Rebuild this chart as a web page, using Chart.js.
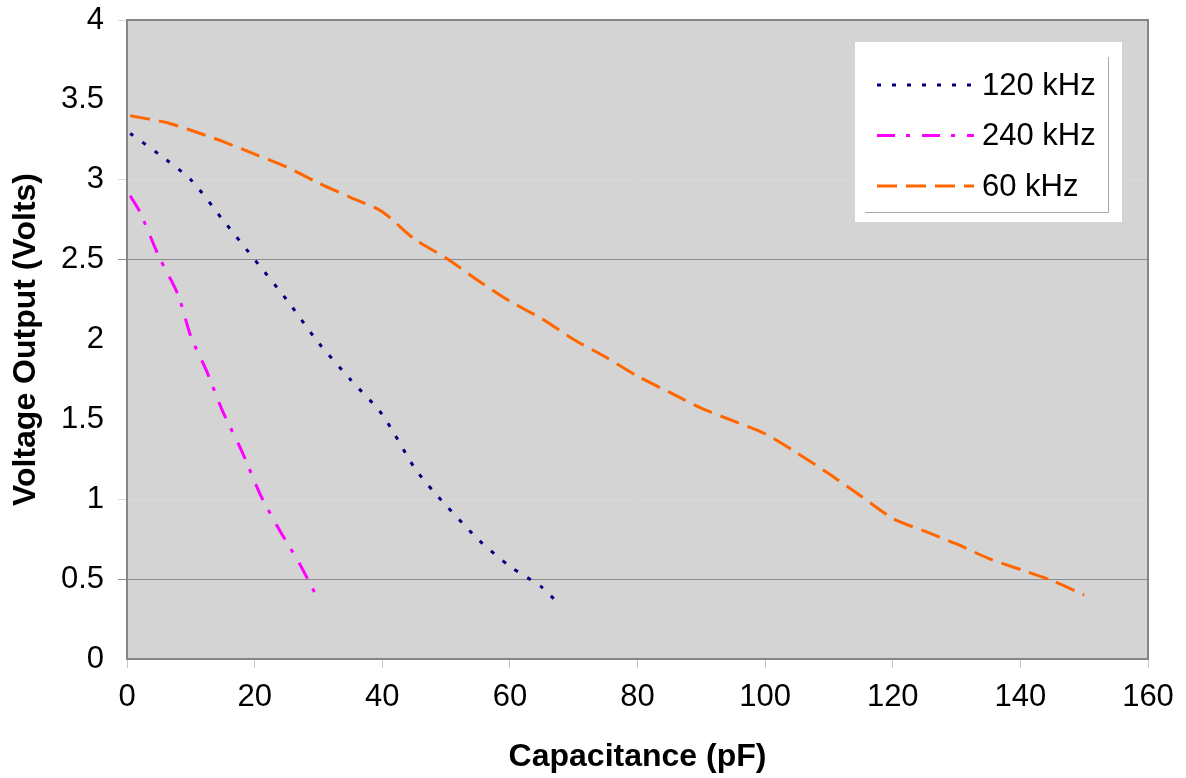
<!DOCTYPE html>
<html>
<head>
<meta charset="utf-8">
<script src="https://cdn.jsdelivr.net/npm/chart.js@4/dist/chart.umd.min.js"></script>
<style>
body{margin:0;background:#fff;}
#wrap{width:1186px;height:778px;position:relative;}
</style>
</head>
<body>
<div id="wrap"><canvas id="chart"></canvas></div>
<script>
// ================= Data =================
const xTicks=[0,20,40,60,80,100,120,140,160];
const yTicks=[0,0.5,1,1.5,2,2.5,3,3.5,4];
const seriesNames=['120 kHz','240 kHz','60 kHz'];

const cap120=[0.5,5,10,15,20,25,30,35,40,45,48,55,60,65,67.5];
const volt120=[3.29,3.16,3.0,2.75,2.5,2.25,1.98,1.75,1.53,1.2,1.05,0.75,0.58,0.45,0.35];

const cap240=[0.5,2,5,8,10,12.5,15,18,21,24,27,30];
const volt240=[2.9,2.8,2.52,2.28,2.02,1.8,1.55,1.3,1.02,0.8,0.6,0.37];

const cap60=[0.5,6,10,15,20,25,30,35,40,45,50,55,60,65,70,75,80,85,90,95,100,105,110,115,120,125,130,135,140,145,150];
const volt60=[3.4,3.36,3.31,3.24,3.16,3.08,2.98,2.89,2.8,2.63,2.51,2.37,2.24,2.13,2.0,1.89,1.77,1.67,1.57,1.49,1.41,1.29,1.16,1.02,0.88,0.8,0.72,0.63,0.56,0.49,0.4];

const toPts=(xs,ys)=>xs.map((x,i)=>({x:x,y:ys[i]}));

// ================= Plugins =================
const plotBox={
    id:'plotBox',
    beforeDraw(chart){
        const {ctx,chartArea:a}=chart;
        ctx.save(); ctx.fillStyle='#d4d4d4';
        ctx.fillRect(a.left,a.top,a.right-a.left,a.bottom-a.top); ctx.restore();
    },
    beforeDatasetsDraw(chart){
        const {ctx,chartArea:a}=chart;
        ctx.save(); ctx.strokeStyle='#858585'; ctx.lineWidth=2;
        ctx.strokeRect(a.left,a.top,a.right-a.left,a.bottom-a.top); ctx.restore();
    }
};

const boxLegend={
    id:'boxLegend',
    afterDraw(chart){
        const ctx=chart.ctx;
        ctx.save();
        ctx.fillStyle='#fff'; ctx.fillRect(855,42,267,180);
        ctx.strokeStyle='#a8a8a8'; ctx.lineWidth=1;
        ctx.beginPath(); ctx.moveTo(1108.5,57); ctx.lineTo(1108.5,212.5); ctx.lineTo(865,212.5); ctx.stroke();
        chart.data.datasets.forEach((ds,i)=>{
            const y=85+i*50.5;
            ctx.strokeStyle=ds.borderColor; ctx.lineWidth=3; ctx.setLineDash(ds.borderDash);
            ctx.beginPath(); ctx.moveTo(877,y); ctx.lineTo(974,y); ctx.stroke();
            ctx.setLineDash([]);
            ctx.fillStyle='#000'; ctx.font='31px "Liberation Sans", Arial, sans-serif';
            ctx.textBaseline='middle'; ctx.fillText(ds.label,982,y+1);
        });
        ctx.restore();
    }
};

// ================= Chart =================
const font='"Liberation Sans", Arial, sans-serif';
new Chart(document.getElementById('chart'),{
    type:'scatter',
    data:{datasets:[
        {label:seriesNames[0],data:toPts(cap120,volt120),borderColor:'#000080',borderDash:[4,11],borderWidth:3},
        {label:seriesNames[1],data:toPts(cap240,volt240),borderColor:'#ff00ff',borderDash:[18,11,4,12],borderWidth:3},
        {label:seriesNames[2],data:toPts(cap60,volt60),borderColor:'#ff6600',borderDash:[20,9],borderWidth:3}
    ].map(d=>Object.assign(d,{showLine:true,pointRadius:0,fill:false,tension:0.25,borderCapStyle:'butt'}))},
    options:{
        responsive:true,maintainAspectRatio:false,animation:false,
        layout:{padding:{top:20,right:38,left:0,bottom:0}},
        plugins:{legend:{display:false},tooltip:{enabled:false}},
        scales:{
            x:{
                type:'linear',min:0,max:160,
                afterBuildTicks:s=>{s.ticks=xTicks.map(v=>({value:v}));},
                afterFit:s=>{s.height=119; s.paddingLeft=0; s.paddingRight=0;},
                grid:{drawOnChartArea:false,color:'#c8c8c8',tickLength:9},
                border:{display:false},
                ticks:{color:'#000',font:{family:font,size:31},padding:11,maxRotation:0,callback:v=>String(v)},
                title:{display:true,text:'Capacitance (pF)',color:'#000',font:{family:font,size:32,weight:'bold'},padding:{top:0,bottom:2}}
            },
            y:{
                min:0,max:4,
                afterBuildTicks:s=>{s.ticks=yTicks.map(v=>({value:v}));},
                afterFit:s=>{s.width=127; s.paddingTop=0; s.paddingBottom=0;},
                grid:{tickLength:9,color:c=>{
                    const v=c.tick?c.tick.value:null;
                    if(v===2.5||v===0.5) return '#8c8c8c';
                    if(v===3||v===1||v===4) return '#d9d9d9';
                    return 'rgba(0,0,0,0)';
                }},
                border:{display:false},
                ticks:{color:'#000',font:{family:font,size:31},padding:14,callback:v=>String(v)},
                title:{display:true,text:'Voltage Output (Volts)',color:'#000',font:{family:font,size:32,weight:'bold'},padding:{top:7,bottom:0}}
            }
        }
    },
    plugins:[plotBox,boxLegend]
});
</script>
</body>
</html>
